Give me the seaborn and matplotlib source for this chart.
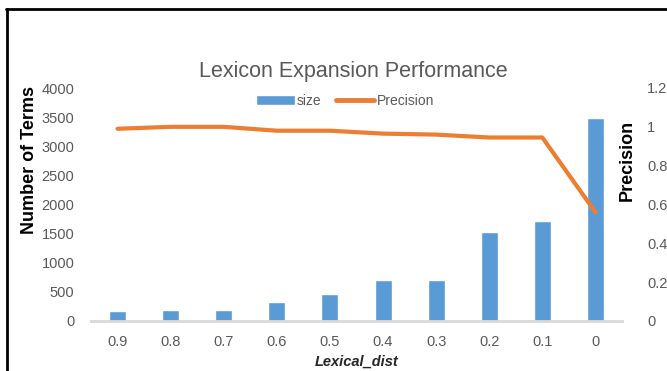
import numpy as np
import matplotlib
matplotlib.use("Agg")
import matplotlib.pyplot as plt
import seaborn as sns
from matplotlib.patches import Patch
from matplotlib.lines import Line2D

# data
dist_labels = ["0.9", "0.8", "0.7", "0.6", "0.5", "0.4", "0.3", "0.2", "0.1", "0"]
size_vals = [170, 185, 185, 330, 460, 710, 710, 1530, 1710, 3490]
precision_vals = [0.99, 1.0, 1.0, 0.98, 0.98, 0.965, 0.96, 0.945, 0.945, 0.56]

sns.set_theme(style="white")
plt.rcParams["font.family"] = ["Liberation Sans", "DejaVu Sans"]

bar_color = "#5B9BD5"
line_color = "#ED7D31"
tick_color = "#595959"

fig = plt.figure(figsize=(6.67, 3.71), dpi=100)
ax = fig.add_axes([91 / 667, 1 - 321 / 371, 531 / 667, 233 / 371])

sns.barplot(x=dist_labels, y=size_vals, color=bar_color, width=0.32,
            saturation=1, ax=ax)
ax.set_ylim(0, 4000)
ax.set_yticks(range(0, 4001, 500))
ax.set_xlim(-0.5, len(dist_labels) - 0.5)

ax2 = ax.twinx()
sns.lineplot(x=np.arange(len(dist_labels)), y=precision_vals, color=line_color,
             linewidth=3, sort=False, ax=ax2)
ax2.set_ylim(0, 1.2)
ax2.set_yticks([0, 0.2, 0.4, 0.6, 0.8, 1, 1.2])
ax2.set_yticklabels(["0", "0.2", "0.4", "0.6", "0.8", "1", "1.2"])

for a in (ax, ax2):
    for s in ["top", "left", "right", "bottom"]:
        a.spines[s].set_visible(False)
    a.tick_params(length=0, labelsize=10.5, labelcolor=tick_color)
    a.grid(False)
ax.spines["bottom"].set_visible(True)
ax.spines["bottom"].set_color("#D9D9D9")
ax.spines["bottom"].set_linewidth(2)
ax.tick_params(axis="y", pad=12)
ax.tick_params(axis="x", pad=10)
ax2.tick_params(axis="y", pad=18)

ax.set_ylabel("Number of Terms", fontsize=13, fontweight="bold", color="black")
ax.yaxis.label.set_va("center")
ax.yaxis.set_label_coords(-0.115, 0.69)
ax.set_xlabel("Lexical_dist", fontsize=10.5, fontweight="bold", style="italic",
              color="#262626", labelpad=4)
ax2.set_ylabel("Precision", fontsize=13, fontweight="bold", color="black")
ax2.yaxis.label.set_va("center")
ax2.yaxis.set_label_coords(1.01, 0.69)

fig.text(353 / 667, 1 - 72 / 371, "Lexicon Expansion Performance", ha="center",
         va="center", fontsize=15.5, color=tick_color)

handles = [Patch(facecolor=bar_color, label="size"),
           Line2D([0], [0], color=line_color, linewidth=3.5, label="Precision")]
fig.legend(handles=handles, loc="center", bbox_to_anchor=(345 / 667, 1 - 101 / 371),
           ncol=2, frameon=False, fontsize=10, labelcolor=tick_color,
           handlelength=2.8, handleheight=0.8, handletextpad=0.15, columnspacing=1.0)

# outer frame (top and left edges visible)
fig.add_artist(Line2D([6 / 667, 1], [1 - 9 / 371, 1 - 9 / 371], color="black", linewidth=2))
fig.add_artist(Line2D([7 / 667, 7 / 667], [0, 1 - 9 / 371], color="black", linewidth=2))

fig.savefig("out.png", dpi=100)
